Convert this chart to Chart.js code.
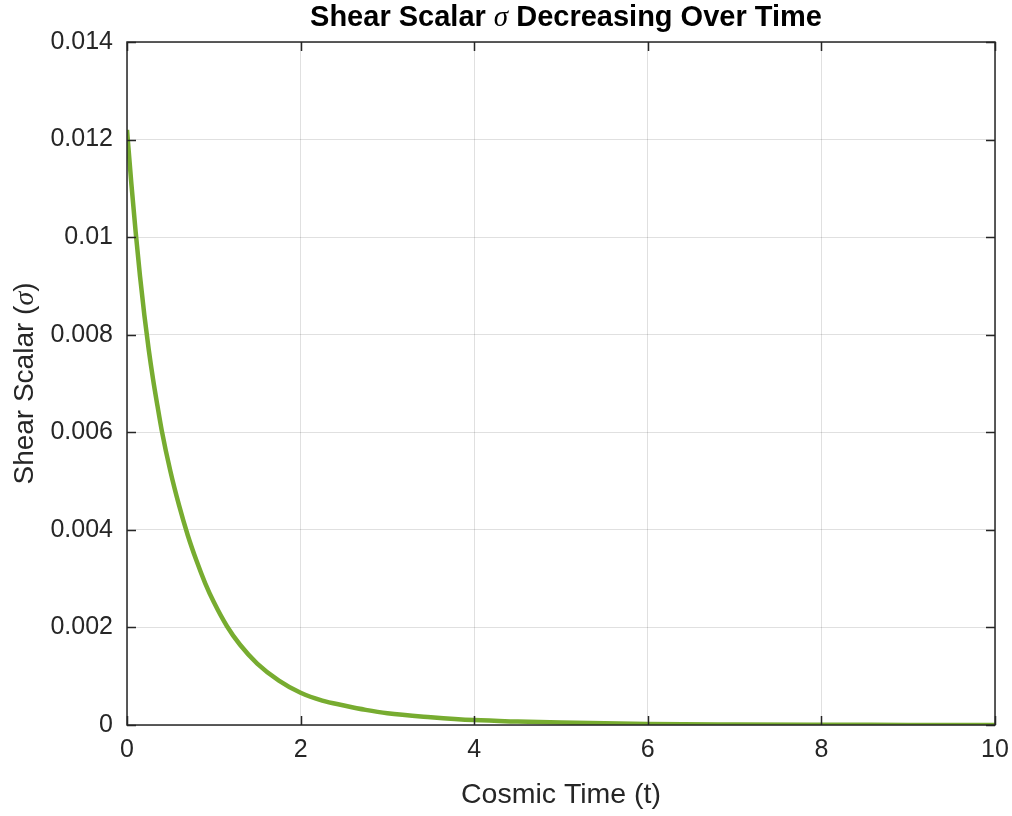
<!DOCTYPE html>
<html>
<head>
<meta charset="utf-8">
<script src="https://cdn.jsdelivr.net/npm/chart.js@4.4.1/dist/chart.umd.min.js"></script>
<style>
  html, body { margin: 0; padding: 0; background: #fff; }
  #wrap { width: 1012px; height: 816px; }
</style>
</head>
<body>
<div id="wrap"><canvas id="shearChart"></canvas></div>
<script>
// values
const timeValues = [0, 0.05, 0.1, 0.15, 0.2, 0.25, 0.3, 0.35, 0.4, 0.5, 0.6, 0.7, 0.8, 0.9, 1.0, 1.15, 1.3, 1.5, 1.75, 2.0, 2.25, 2.5, 2.75, 3.0, 3.5, 4.0, 4.5, 5.0, 6.0, 7.0, 8.0, 9.0, 10.0];
const shearValues = [0.0122, 0.0111, 0.0101, 0.0092, 0.0084, 0.0077, 0.00709, 0.00655, 0.00604, 0.0052, 0.0045, 0.00389, 0.00337, 0.00291, 0.00252, 0.00203, 0.00165, 0.00126, 0.00091, 0.00066, 0.0005, 0.0004, 0.00031, 0.00024, 0.00016, 0.0001, 0.00007, 0.00005, 0.00002, 0.00001, 0.000005, 0.000002, 0.000001];
const xTicks = [0, 2, 4, 6, 8, 10];
const yTicks = [0, 0.002, 0.004, 0.006, 0.008, 0.01, 0.012, 0.014];
const titleParts = ['Shear Scalar ', 'σ', ' Decreasing Over Time'];
const yLabelParts = ['Shear Scalar (', 'σ', ')'];

const SANS = '"Liberation Sans", Arial, Helvetica, sans-serif';
const SERIF = '"Liberation Serif", "Times New Roman", serif';
const INK = '#262626';

// draws text made of plain / italic-serif / plain parts, centred on (0,0) of the current transform
function drawMixed(ctx, parts, size, bold, color) {
    const fonts = [
        (bold ? 'bold ' : '') + size + 'px ' + SANS,
        'italic ' + size + 'px ' + SERIF,
        (bold ? 'bold ' : '') + size + 'px ' + SANS
    ];
    let widths = parts.map((p, i) => { ctx.font = fonts[i]; return ctx.measureText(p).width; });
    let total = widths.reduce((a, b) => a + b, 0);
    let x = -total / 2;
    ctx.fillStyle = color;
    ctx.textBaseline = 'alphabetic';
    ctx.textAlign = 'left';
    parts.forEach((p, i) => {
        ctx.font = fonts[i];
        ctx.fillText(p, x, 0);
        x += widths[i];
    });
}

// MATLAB style ticks pointing inward on all four sides, box, title, y label
const matlabAxes = {
    id: 'matlabAxes',
    afterDraw(chart) {
        const { ctx, chartArea: a, scales: { x, y } } = chart;
        const len = 9;
        ctx.save();
        ctx.strokeStyle = INK;
        ctx.lineWidth = 1.5;
        ctx.beginPath();
        xTicks.forEach(v => {
            const px = Math.round(x.getPixelForValue(v)) + 0.5;
            ctx.moveTo(px, a.bottom); ctx.lineTo(px, a.bottom - len);
            ctx.moveTo(px, a.top); ctx.lineTo(px, a.top + len);
        });
        yTicks.forEach(v => {
            const py = Math.round(y.getPixelForValue(v)) + 0.5;
            ctx.moveTo(a.left, py); ctx.lineTo(a.left + len, py);
            ctx.moveTo(a.right, py); ctx.lineTo(a.right - len, py);
        });
        ctx.stroke();
        ctx.strokeRect(a.left, a.top, a.right - a.left, a.bottom - a.top);

        // title
        ctx.save();
        ctx.translate((a.left + a.right) / 2 + 5, 26);
        drawMixed(ctx, titleParts, 29, true, '#000');
        ctx.restore();

        // y axis label
        ctx.save();
        ctx.translate(33, (a.top + a.bottom) / 2);
        ctx.rotate(-Math.PI / 2);
        drawMixed(ctx, yLabelParts, 28, false, INK);
        ctx.restore();
        ctx.restore();
    }
};

new Chart(document.getElementById('shearChart'), {
    type: 'line',
    data: {
        datasets: [{
            label: 'Shear Scalar',
            data: timeValues.map((t, i) => ({ x: t, y: shearValues[i] })),
            borderColor: '#77ac30',
            borderWidth: 4.5,
            pointRadius: 0,
            fill: false,
            cubicInterpolationMode: 'monotone'
        }]
    },
    options: {
        responsive: true,
        maintainAspectRatio: false,
        animation: false,
        layout: { padding: { left: 0, right: 17, top: 42, bottom: 0 } },
        plugins: {
            legend: { display: false },
            tooltip: { enabled: false }
        },
        scales: {
            x: {
                type: 'linear',
                min: 0,
                max: 10,
                afterBuildTicks: s => { s.ticks = xTicks.map(v => ({ value: v })); },
                afterFit: s => { s.height = 91; s.paddingLeft = 0; s.paddingRight = 0; },
                ticks: { color: INK, font: { family: SANS, size: 25 }, padding: 10, maxRotation: 0 },
                grid: { color: 'rgba(0,0,0,0.12)', drawTicks: false },
                border: { display: false },
                title: {
                    display: true,
                    text: 'Cosmic Time (t)',
                    color: INK,
                    font: { family: SANS, size: 28.5 },
                    padding: { top: 6 }
                }
            },
            y: {
                min: 0,
                max: 0.014,
                afterBuildTicks: s => { s.ticks = yTicks.map(v => ({ value: v })); },
                afterFit: s => { s.width = 127; s.paddingTop = 0; s.paddingBottom = 0; },
                ticks: {
                    color: INK,
                    font: { family: SANS, size: 25 },
                    padding: 14,
                    callback: v => String(+v.toFixed(3))
                },
                grid: { color: 'rgba(0,0,0,0.12)', drawTicks: false },
                border: { display: false }
            }
        }
    },
    plugins: [matlabAxes]
});
</script>
</body>
</html>
